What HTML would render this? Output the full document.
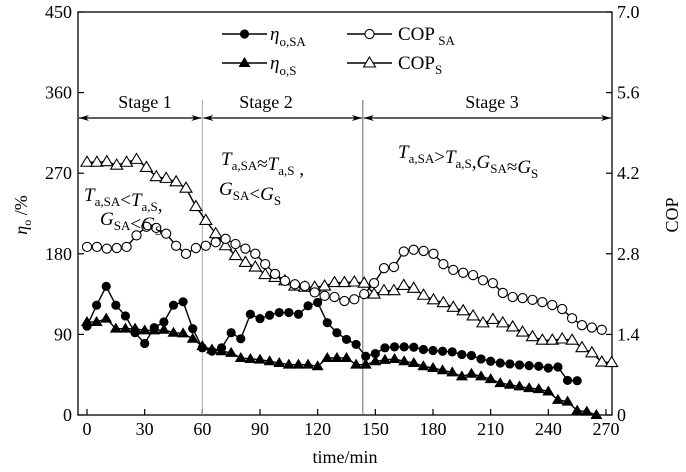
<!DOCTYPE html>
<html><head><meta charset="utf-8"><style>
body{margin:0;background:#fff;}
svg{display:block;font-family:"Liberation Serif",serif;}
</style></head><body>
<svg id="chart" width="686" height="472" viewBox="0 0 686 472" xmlns="http://www.w3.org/2000/svg">
<g id="axes"></g>
<g id="series"></g>
<g id="ann"></g>
</svg>
<script>
const etaSATimes=[0,5,10,15,20,25,30,35,40,45,50,55,60,65,70,75,80,85,90,95,100,105,110,115,120,125,130,135,140,145,150,155,160,165,170,175,180,185,190,195,200,205,210,215,220,225,230,235,240,245,250,255];
const etaSA=[99.3,122.6,143.6,122.6,110.6,91.9,79.9,97.5,103.9,122.6,126.4,96.4,75,71.3,75,91.9,85.1,112.5,107.6,111.4,114.4,114.4,112.5,121.9,125.6,103.1,91.9,84.4,78.8,65.6,68.6,75,76.1,76.1,75.7,73.1,72,71.2,70.5,67.5,66.4,62.6,60,58.1,57,55.9,55.1,54.4,52.5,53.6,38.6,38.3];
const etaSTimes=[0,5,10,15,20,25,30,35,40,45,50,55,60,65,70,75,80,85,90,95,100,105,110,115,120,125,130,135,140,145,150,155,160,165,170,175,180,185,190,195,200,205,210,215,220,225,230,235,240,245,250,255,260,265];
const etaS=[103.9,103.9,107.6,96.4,96.4,96.4,94.5,94.5,95.2,91.9,91.1,85.1,76.9,73.1,71.2,69.4,63.7,62.6,61.9,60,58.1,56.2,56.2,56.2,54.4,63.7,63.7,63.7,56.2,56.2,60,61.5,62.6,60,58.1,54.4,52.5,49.9,47.6,43.1,46.1,43.1,40.1,35.6,33.8,31.9,30,28.9,26.2,16.9,15,4.9,3.8,0];
const copSATimes=[0,5.15,10.3,15.45,20.6,25.75,30.9,36.05,41.2,46.35,51.5,56.65,61.8,66.95,72.1,77.25,82.4,87.55,92.7,97.85,103,108.15,113.3,118.45,123.6,128.75,133.9,139.05,144.2,149.35,154.5,159.65,164.8,169.95,175.1,180.25,185.4,190.55,195.7,200.85,206,211.15,216.3,221.45,226.6,231.75,236.9,242.05,247.2,252.35,257.5,262.65,267.8];
const copSA=[2.92,2.92,2.89,2.90,2.92,3.12,3.27,3.25,3.15,2.94,2.80,2.90,2.94,3.00,3.06,2.97,2.89,2.80,2.62,2.45,2.33,2.27,2.24,2.13,2.07,2.05,1.98,2.01,2.10,2.29,2.55,2.57,2.84,2.87,2.85,2.80,2.62,2.52,2.47,2.43,2.34,2.29,2.12,2.05,2.03,2.00,1.96,1.91,1.84,1.68,1.56,1.52,1.48];
const copSTimes=[0,5.15,10.3,15.45,20.6,25.75,30.9,36.05,41.2,46.35,51.5,56.65,61.8,66.95,72.1,77.25,82.4,87.55,92.7,97.85,103,108.15,113.3,118.45,123.6,128.75,133.9,139.05,144.2,149.35,154.5,159.65,164.8,169.95,175.1,180.25,185.4,190.55,195.7,200.85,206,211.15,216.3,221.45,226.6,231.75,236.9,242.05,247.2,252.35,257.5,262.65,267.8,272.95];
const copS=[4.39,4.39,4.40,4.34,4.39,4.44,4.30,4.14,4.11,4.05,3.94,3.62,3.38,3.15,2.94,2.77,2.65,2.57,2.44,2.39,2.33,2.24,2.22,2.22,2.24,2.30,2.30,2.31,2.29,2.10,2.16,2.16,2.25,2.20,2.08,2.00,1.95,1.87,1.81,1.72,1.60,1.66,1.60,1.53,1.44,1.36,1.30,1.30,1.32,1.30,1.17,1.08,0.92,0.91];
const xTicks=[0,30,60,90,120,150,180,210,240,270];
const yLeftTicks=[0,90,180,270,360,450];
const yRightTicks=["0","1.4","2.8","4.2","5.6","7.0"];
const stageBounds=[60,143.5];

const L=78,R=612,T=12,B=415;
const X0=87,X270=606;
function xs(t){return X0+(t/270)*(X270-X0);}
function yl(v){return B-(v/450)*(B-T);}
function yr(v){return B-(v/7)*(B-T);}
const NS="http://www.w3.org/2000/svg";
function mk(tag,attrs,parent,text){const e=document.createElementNS(NS,tag);for(const k in attrs)e.setAttribute(k,attrs[k]);if(text!==undefined)e.textContent=text;parent.appendChild(e);return e;}
const ax=document.getElementById('axes'),sg=document.getElementById('series'),an=document.getElementById('ann');

let f=mk('rect',{x:L,y:T,width:R-L,height:B-T,fill:'none',stroke:'#000','stroke-width':1.3},ax);


xTicks.forEach(t=>{
 let l=mk('line',{x1:xs(t),x2:xs(t),y1:B,y2:B-6,stroke:'#000','stroke-width':1.2},ax);
 
 
 let tx=mk('text',{x:xs(t),y:B+20,'text-anchor':'middle','font-size':18},ax,String(t));
 
 
});
yLeftTicks.forEach(v=>{
 let l=mk('line',{x1:L,x2:L+6,y1:yl(v),y2:yl(v),stroke:'#000','stroke-width':1.2},ax);
 
 
 let tx=mk('text',{x:L-6,y:yl(v)+6,'text-anchor':'end','font-size':18},ax,String(v));
 
 
});
yRightTicks.forEach(s=>{
 const v=parseFloat(s);
 let l=mk('line',{x1:R,x2:R-6,y1:yr(v),y2:yr(v),stroke:'#000','stroke-width':1.2},ax);
 
 
 let tx=mk('text',{x:R+5,y:yr(v)+6,'text-anchor':'start','font-size':18},ax,s);
 
 
});
let xt=mk('text',{x:345,y:463,'text-anchor':'middle','font-size':18},ax,'time/min');


let ylt=mk('text',{transform:'translate(27,215) rotate(-90)','text-anchor':'middle','font-size':18},ax);


ylt.innerHTML='<tspan font-style="italic">η</tspan><tspan font-size="12" dy="4">o</tspan><tspan dy="-4"> /%</tspan>';
let yrt=mk('text',{transform:'translate(678,215) rotate(-90)','text-anchor':'middle','font-size':18},ax,'COP');



// stage lines
stageBounds.forEach((t,i)=>{
 let l=mk('line',{x1:xs(t),x2:xs(t),y1:100,y2:B,stroke:i==0?'#aaa':'#666','stroke-width':1},ax);
 
 
});
const ay=118;
function arrow(x1,x2){
 let g=mk('g',{},an);
 
 
 mk('line',{x1:x1,x2:x2,y1:ay,y2:ay,stroke:'#000','stroke-width':1.3},g);
 mk('path',{d:`M${x1},${ay} l10,-3 l-3,3 l3,3 z`,fill:'#000'},g);
 mk('path',{d:`M${x2},${ay} l-10,-3 l3,3 l-3,3 z`,fill:'#000'},g);
}
arrow(L+1,xs(60)-1);arrow(xs(60)+1,xs(143.5)-1);arrow(xs(143.5)+1,R-1);
[['Stage 1',145],['Stage 2',266],['Stage 3',492]].forEach(([s,x])=>{
 let t=mk('text',{x:x,y:108,'text-anchor':'middle','font-size':18},an,s);
 
 
});
function rich(x,y,html,name){let t=mk('text',{x:x,y:y,'font-size':19},an);t.innerHTML=html;}
const sub=(s)=>`<tspan font-size="13" dy="5">${s}</tspan><tspan dy="-5"></tspan>`;
rich(84,201,`<tspan font-style="italic">T</tspan>${sub('a,SA')}&lt;<tspan font-style="italic">T</tspan>${sub('a,S')},`,'stage1-condition-t');
rich(100,225,`<tspan font-style="italic">G</tspan>${sub('SA')}&lt;<tspan font-style="italic">G</tspan>${sub('S')}`,'stage1-condition-g');
rich(221,165,`<tspan font-style="italic">T</tspan>${sub('a,SA')}≈<tspan font-style="italic">T</tspan>${sub('a,S')} ,`,'stage2-condition-t');
rich(219,195,`<tspan font-style="italic">G</tspan>${sub('SA')}&lt;<tspan font-style="italic">G</tspan>${sub('S')}`,'stage2-condition-g');
rich(398,158,`<tspan font-style="italic">T</tspan>${sub('a,SA')}&gt;<tspan font-style="italic">T</tspan>${sub('a,S')},<tspan font-style="italic">G</tspan>${sub('SA')}≈<tspan font-style="italic">G</tspan>${sub('S')}`,'stage3-condition');

function marker(g,type,x,y){
 if(type==='fc')mk('circle',{cx:x,cy:y,r:4.6,fill:'#000'},g);
 else if(type==='oc')mk('circle',{cx:x,cy:y,r:4.6,fill:'#fff',stroke:'#000','stroke-width':1.1},g);
 else if(type==='ft')mk('path',{d:`M${x},${y-6} L${x+6},${y+4} L${x-6},${y+4} Z`,fill:'#000'},g);
 else mk('path',{d:`M${x},${y-6} L${x+6},${y+4} L${x-6},${y+4} Z`,fill:'#fff',stroke:'#000','stroke-width':1.1},g);
}
function series(times,vals,yf,type,name){
 const g=mk('g',{},sg);
 
 
 const pts=times.map((t,i)=>[xs(t),Math.min(yf(vals[i]),B)]);
 mk('polyline',{points:pts.map(p=>p.join(',')).join(' '),fill:'none',stroke:'#000','stroke-width':1.4},g);
 pts.forEach(p=>marker(g,type,p[0],p[1]));
}
series(copSTimes,copS,yr,'ot','series-cop-s');
series(copSATimes,copSA,yr,'oc','series-cop-sa');
series(etaSTimes,etaS,yl,'ft','series-eta-s');
series(etaSATimes,etaSA,yl,'fc','series-eta-sa');

// legend
function leg(x1,x2,y,type,html,tx,name){
 const g=mk('g',{},an);
 
 
 mk('line',{x1:x1,x2:x2,y1:y,y2:y,stroke:'#000','stroke-width':1.6},g);
 marker(g,type,(x1+x2)/2,y);
 const t=mk('text',{x:tx,y:y+6,'font-size':19},g);t.innerHTML=html;
}
leg(222,267,34,'fc',`<tspan font-style="italic">η</tspan><tspan font-size="13" dy="6">o,SA</tspan>`,270,'legend-eta-sa');
leg(222,267,63,'ft',`<tspan font-style="italic">η</tspan><tspan font-size="13" dy="6">o,S</tspan>`,270,'legend-eta-s');
leg(347,392,34,'oc',`COP<tspan font-size="13" dy="5"> SA</tspan>`,398,'legend-cop-sa');
leg(347,392,63,'ot',`COP<tspan font-size="13" dy="5">S</tspan>`,398,'legend-cop-s');
</script>
</body></html>
